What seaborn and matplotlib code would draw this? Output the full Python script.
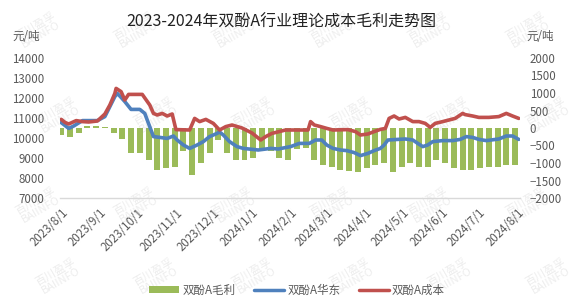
import matplotlib
matplotlib.use("Agg")
import matplotlib.pyplot as plt
from matplotlib.patches import Patch
from matplotlib.lines import Line2D
import pandas as pd
import seaborn as sns

# ---------------- data ----------------
cost_dates = ["2023-08-01","2023-08-04","2023-08-07","2023-08-13","2023-08-18","2023-08-23","2023-08-30",
              "2023-09-05","2023-09-09","2023-09-13","2023-09-14","2023-09-18","2023-09-21","2023-09-24",
              "2023-10-05","2023-10-11","2023-10-14","2023-10-17","2023-10-21","2023-10-25","2023-10-29",
              "2023-11-01","2023-11-12","2023-11-16","2023-11-20","2023-11-25","2023-12-01","2023-12-06",
              "2023-12-11","2023-12-16","2023-12-24","2024-01-01","2024-01-08","2024-01-12","2024-01-17",
              "2024-01-28","2024-02-15","2024-02-17","2024-02-20","2024-02-25","2024-03-01","2024-03-06",
              "2024-03-18","2024-03-24","2024-03-28","2024-04-03","2024-04-08","2024-04-13","2024-04-17",
              "2024-04-20","2024-04-24","2024-04-28","2024-05-03","2024-05-09","2024-05-14","2024-05-19",
              "2024-05-23","2024-05-27","2024-06-02","2024-06-07","2024-06-12","2024-06-18","2024-06-20",
              "2024-06-26","2024-07-01","2024-07-09","2024-07-17","2024-07-23","2024-07-28","2024-08-02"]
cost = [10930,10780,10700,10870,10820,10800,10850,11200,11650,12230,12480,12320,11900,12180,
        12180,11650,11230,11150,11230,11100,11200,10420,10400,10980,10820,10930,10730,10400,
        10570,10650,10500,10250,9900,10070,10230,10400,10400,10820,10650,10570,10480,10400,
        10420,10320,10150,10200,10320,10430,10480,10980,11100,10950,11030,10820,10820,10730,
        10530,10730,10820,10900,10980,11230,11170,11100,11030,11030,11070,11230,11100,10980]

price_dates = ["2023-08-01","2023-08-07","2023-08-11","2023-08-18","2023-08-30","2023-09-05","2023-09-09",
               "2023-09-13","2023-09-15","2023-09-18","2023-09-21","2023-09-26","2023-10-03","2023-10-07",
               "2023-10-10","2023-10-14","2023-10-19","2023-10-25","2023-10-30","2023-11-02","2023-11-07",
               "2023-11-12","2023-11-18","2023-11-23","2023-11-28","2023-12-04","2023-12-06","2023-12-09",
               "2023-12-14","2023-12-20","2023-12-25","2024-01-06","2024-01-16","2024-01-22","2024-02-01",
               "2024-02-08","2024-02-16","2024-02-21","2024-02-26","2024-03-01","2024-03-06","2024-03-12",
               "2024-03-17","2024-03-23","2024-03-28","2024-04-03","2024-04-08","2024-04-13","2024-04-16",
               "2024-04-19","2024-04-27","2024-05-03","2024-05-09","2024-05-13","2024-05-17","2024-05-21",
               "2024-05-25","2024-06-02","2024-06-10","2024-06-16","2024-06-21","2024-06-26","2024-07-01",
               "2024-07-07","2024-07-17","2024-07-23","2024-07-28","2024-08-02"]
price = [10770,10480,10600,10870,10870,11070,11570,12070,12230,12030,11820,11430,11430,11230,
         10730,10070,10030,9980,10100,9900,9650,9480,9650,9820,10070,10230,10300,10150,
         9820,9570,9480,9400,9480,9450,9570,9730,9730,9900,9900,9650,9480,9400,
         9370,9270,9120,9230,9370,9480,9650,9900,9930,9950,9900,9730,9570,9650,
         9820,9870,9870,9930,10070,10030,9930,9870,9950,10100,10100,9930]

profit_start = "2023-08-01"
profit = [-200,-250,-150,50,60,30,-150,-300,-700,-720,
          -900,-1200,-1150,-1100,-650,-1350,-1000,-720,-350,-700,
          -900,-900,-870,-620,-650,-850,-900,-600,-580,-900,
          -1050,-1100,-1200,-1220,-1250,-1150,-1050,-1000,-1250,-1100,
          -1000,-1100,-1100,-900,-1000,-1150,-1200,-1200,-1150,-1100,
          -1100,-1050,-1050]

tick_labels = ["2023/8/1","2023/9/1","2023/10/1","2023/11/1","2023/12/1","2024/1/1","2024/2/1",
               "2024/3/1","2024/4/1","2024/5/1","2024/6/1","2024/7/1","2024/8/1"]

title = "2023-2024年双酚A行业理论成本毛利走势图"
series_names = ["双酚A毛利", "双酚A华东", "双酚A成本"]

# ---------------- style ----------------
sns.set_theme(style="white")
FONT = ["Noto Sans CJK SC", "DejaVu Sans"]
plt.rcParams["font.family"] = FONT
plt.rcParams["axes.unicode_minus"] = True

C_GREEN = "#9BBB59"
C_BLUE = "#4F81BD"
C_RED = "#C0504D"
TXT = "#595959"
FS = 8.3

W, H = 578, 303
fig = plt.figure(figsize=(W / 100, H / 100), dpi=100)
fig.patch.set_facecolor("white")

ax = fig.add_axes([60 / W, 1 - 198 / H, 460 / W, 140 / H])
ax2 = ax.twinx()

df_cost = pd.DataFrame({"date": pd.to_datetime(cost_dates), "value": cost})
df_price = pd.DataFrame({"date": pd.to_datetime(price_dates), "value": price})
df_profit = pd.DataFrame({"date": pd.date_range(profit_start, periods=len(profit), freq="7D"),
                          "value": profit})

# bars (right axis)
ax2.bar(df_profit["date"], df_profit["value"], width=4.8, color=C_GREEN, linewidth=0, zorder=1)

# lines (left axis)
sns.lineplot(data=df_price, x="date", y="value", ax=ax, color=C_BLUE, linewidth=2.6, zorder=3)
sns.lineplot(data=df_cost, x="date", y="value", ax=ax, color=C_RED, linewidth=2.6, zorder=4)

ax.set_zorder(ax2.get_zorder() + 1)
ax.patch.set_visible(False)

xmin, xmax = pd.Timestamp("2023-07-31"), pd.Timestamp("2024-08-03")
ax.set_xlim(xmin, xmax)
ax2.set_xlim(xmin, xmax)
ax.set_ylim(7000, 14000)
ax2.set_ylim(-2000, 2000)
ax.set_yticks(range(7000, 14001, 1000))
ax2.set_yticks(range(-2000, 2001, 500))

ticks = pd.to_datetime([t.replace("/", "-") for t in tick_labels])
ax.set_xticks(ticks)
ax.set_xticklabels(tick_labels, rotation=45, ha="right", rotation_mode="anchor",
                   fontsize=FS, color=TXT, fontweight="light")
ax.tick_params(axis="x", length=0, pad=6)
ax.tick_params(axis="y", length=0, pad=11, labelsize=FS, labelcolor=TXT)
ax2.tick_params(axis="y", length=0, pad=7, labelsize=FS, labelcolor=TXT)
for lab in ax.get_yticklabels() + ax2.get_yticklabels():
    lab.set_fontweight("light")
ax.set_xlabel("")
ax.set_ylabel("")
ax2.set_ylabel("")

for a in (ax, ax2):
    for s in a.spines.values():
        s.set_visible(False)
    a.grid(False)
ax.spines["bottom"].set_visible(True)
ax.spines["bottom"].set_color("#D9D9D9")
ax.spines["bottom"].set_linewidth(1.0)

# titles / units
fig.text(281 / W, 1 - 22 / H, title, ha="center", va="center", fontsize=11.5, color="#222222")
fig.text(12 / W, 1 - 36 / H, "元/吨", ha="left", va="center", fontsize=FS, color=TXT,
         fontweight="light")
fig.text(526 / W, 1 - 36 / H, "元/吨", ha="left", va="center", fontsize=FS, color=TXT,
         fontweight="light")

# legend
handles = [Patch(facecolor=C_GREEN, edgecolor="none"),
           Line2D([0], [0], color=C_BLUE, lw=2.5),
           Line2D([0], [0], color=C_RED, lw=2.5)]
leg = fig.legend(handles, series_names, loc="center", bbox_to_anchor=(297 / W, 1 - 290 / H),
                 ncol=3, frameon=False, fontsize=FS, handlelength=2.6, handleheight=0.6,
                 handletextpad=0.3, columnspacing=1.6)
for t in leg.get_texts():
    t.set_color(TXT)
    t.set_fontweight("light")

# watermarks
for ry, yy in enumerate([30, 115, 205, 276]):
    for cx in range(6):
        xx = 38 + 98 * cx + (20 if ry % 2 else 0)
        fig.text(xx / W, 1 - yy / H, "百川盈孚\nBAIINFO", ha="center", va="center",
                 rotation=30, fontsize=8, color="#9a9a9a", alpha=0.18,
                 linespacing=0.9, zorder=0)

fig.savefig("out.png", dpi=100, facecolor="white")
